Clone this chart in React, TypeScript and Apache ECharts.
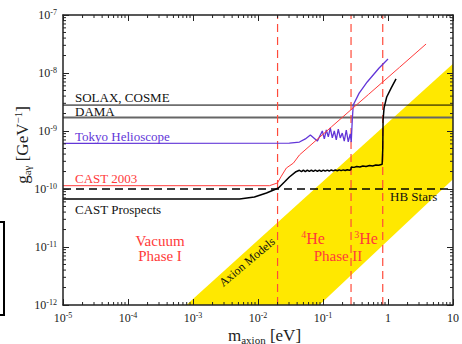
import React, { useEffect, useRef } from "react";
import * as echarts from "echarts";

const FONT = '"Liberation Serif", "Times New Roman", serif';

const X_RANGE: [number, number] = [1e-5, 10];
const Y_RANGE: [number, number] = [1e-12, 1e-7];

// horizontal limits
const SOLAX_COSME = 2.8e-9;
const DAMA = 1.71e-9;
const HB_STARS = 1.0e-10;
// vertical dashed limits (eV)
const VERTICAL_LIMITS = [0.02, 0.27, 0.83];

// yellow axion-model band vertices
const AXION_BAND: [number, number][] = [
  [7.9e-4, 1e-12],
  [10, 1.45e-8],
  [10, 1.47e-10],
  [0.088, 1e-12],
];

const TOKYO: [number, number][] = [
  [1e-5, 6.1e-10], [0.0304, 6.2e-10], [0.0434, 6.45e-10], [0.0535, 7.3e-10],
  [0.0639, 8.5e-10], [0.0818, 6.7e-10], [0.0976, 1.0e-9], [0.1048, 7.3e-10],
  [0.1125, 1.04e-9], [0.1207, 7.9e-10], [0.1295, 1.13e-9], [0.139, 7.6e-10],
  [0.1492, 1.0e-9], [0.16, 7.0e-10], [0.1718, 1.08e-9], [0.1844, 7.6e-10],
  [0.198, 9.2e-10], [0.2124, 6.7e-10], [0.228, 1.04e-9], [0.2446, 6.5e-10],
  [0.2625, 8.9e-10], [0.272, 6.45e-10], [0.282, 1.55e-9], [0.292, 2.8e-9],
  [0.36, 4.5e-9], [0.479, 7.0e-9], [0.73, 1.22e-8], [1.0, 1.74e-8],
];

const CAST_2003: [number, number][] = [
  [1e-5, 1.14e-10], [0.015, 1.14e-10], [0.0199, 1.27e-10], [0.0229, 1.67e-10],
  [0.0273, 2.3e-10], [0.0351, 2.8e-10], [0.0434, 3.86e-10], [0.134, 1.17e-9],
  [0.5, 4.26e-9], [1.5, 1.25e-8], [3.85, 3.16e-8],
];

const CAST_PROSPECTS: [number, number][] = [
  [1e-5, 6.73e-11], [0.0052, 6.73e-11], [0.0088, 7.28e-11], [0.0135, 8.53e-11],
  [0.0206, 1.04e-10], [0.0255, 1.32e-10], [0.0304, 1.61e-10], [0.0376, 1.96e-10],
  [0.0434, 2.1e-10], [0.0467, 2.0e-10], [0.0499, 2.12e-10], [0.0535, 2.0e-10],
  [0.0574, 2.12e-10], [0.0617, 2.01e-10], [0.0662, 2.12e-10], [0.071, 2.01e-10],
  [0.0762, 2.12e-10], [0.082, 2.02e-10], [0.0879, 2.12e-10], [0.094, 2.02e-10],
  [0.101, 2.12e-10], [0.108, 2.03e-10], [0.1164, 2.12e-10], [0.125, 2.04e-10],
  [0.134, 2.13e-10], [0.144, 2.05e-10], [0.1545, 2.13e-10], [0.166, 2.06e-10],
  [0.178, 2.14e-10], [0.19, 2.07e-10], [0.205, 2.14e-10], [0.22, 2.08e-10],
  [0.236, 2.15e-10], [0.2535, 2.1e-10], [0.268, 2.14e-10], [0.272, 2.39e-10],
  [0.3, 2.36e-10], [0.33, 2.45e-10], [0.37, 2.4e-10], [0.41, 2.5e-10],
  [0.46, 2.45e-10], [0.52, 2.55e-10], [0.58, 2.5e-10], [0.65, 2.6e-10],
  [0.72, 2.56e-10], [0.813, 2.68e-10], [0.83, 4.7e-10], [0.84, 1.55e-9],
  [0.87, 2.5e-9], [0.955, 3.86e-9], [1.117, 5.5e-9], [1.33, 7.9e-9],
];

// minor tick positions of the log axes (2..9 within each decade)
const MINOR_MULT = [2, 3, 4, 5, 6, 7, 8, 9];
const X_DECADES = [-5, -4, -3, -2, -1, 0];
const Y_DECADES = [-12, -11, -10, -9, -8];

const COLORS = {
  yellow: "#ffe800",
  purple: "#6236d8",
  red: "#ff3a3a",
  dashRed: "#ff4a3a",
  black: "#000000",
  axis: "#222222",
};

const supLabel = (v: number) => {
  const e = Math.round(Math.log10(v));
  if (e === 0) return "{b|1}";
  if (e === 1) return "{b|10}";
  return `{b|10}{s|${e}}`;
};

const tickRich = {
  b: { fontFamily: FONT, fontSize: 12, color: "#222", lineHeight: 14 },
  s: { fontFamily: FONT, fontSize: 8, color: "#222", verticalAlign: "top" },
};

function hLine(name: string, y: number, color: string, width: number, type: any = "solid", z = 3) {
  return {
    name,
    type: "line",
    data: [[X_RANGE[0], y], [X_RANGE[1], y]],
    symbol: "none",
    silent: true,
    z,
    lineStyle: { color, width, type },
  };
}

function vLine(x: number) {
  return {
    type: "line",
    data: [[x, Y_RANGE[0]], [x, Y_RANGE[1]]],
    symbol: "none",
    silent: true,
    z: 3,
    lineStyle: { color: COLORS.dashRed, width: 1.2, type: [8, 5] },
  };
}

function curve(name: string, data: [number, number][], color: string, width: number) {
  return {
    name,
    type: "line",
    data,
    symbol: "none",
    silent: true,
    z: 4,
    lineStyle: { color, width },
  };
}

function txt(text: string, x: number, y: number, fill: string, size: number, extra: any = {}) {
  return {
    type: "text",
    x,
    y,
    z: 100,
    silent: true,
    ...extra.el,
    style: {
      text,
      fill,
      fontFamily: FONT,
      fontSize: size,
      align: "left",
      verticalAlign: "middle",
      ...extra.style,
    },
  };
}

const heRich = {
  b: { fontFamily: FONT, fontSize: 16, color: COLORS.red, lineHeight: 18 },
  s: { fontFamily: FONT, fontSize: 10, color: COLORS.red, verticalAlign: "top" },
};

function buildOption() {
  const minorX = X_DECADES.flatMap((d) => MINOR_MULT.map((m) => [m * Math.pow(10, d), Y_RANGE[0]]));
  const minorY = Y_DECADES.flatMap((d) => MINOR_MULT.map((m) => [X_RANGE[0], m * Math.pow(10, d)]));

  const axisCommon = {
    type: "log",
    logBase: 10,
    z: 10,
    axisLine: { show: true, lineStyle: { color: COLORS.axis, width: 1.5 } },
    axisTick: { show: true, inside: true, length: 6, lineStyle: { color: COLORS.axis, width: 1 } },
    splitLine: { show: false },
  };

  return {
    animation: false,
    backgroundColor: "#ffffff",
    grid: { left: 63, right: 8, top: 15, bottom: 39, containLabel: false },
    xAxis: [
      {
        ...axisCommon,
        min: X_RANGE[0],
        max: X_RANGE[1],
        position: "bottom",
        axisLabel: { margin: 6, formatter: supLabel, rich: tickRich },
      },
      {
        ...axisCommon,
        min: X_RANGE[0],
        max: X_RANGE[1],
        position: "top",
        axisLabel: { show: false },
      },
    ],
    yAxis: [
      {
        ...axisCommon,
        min: Y_RANGE[0],
        max: Y_RANGE[1],
        position: "left",
        axisLabel: { margin: 6, formatter: supLabel, rich: tickRich },
      },
      {
        ...axisCommon,
        min: Y_RANGE[0],
        max: Y_RANGE[1],
        position: "right",
        axisLabel: { show: false },
      },
    ],
    series: [
      {
        type: "custom",
        name: "Axion Models",
        silent: true,
        z: 1,
        data: AXION_BAND,
        renderItem: (params: any, api: any) => {
          if (params.dataIndex !== 0) return null;
          const pts = AXION_BAND.map((p) => api.coord(p));
          return { type: "polygon", shape: { points: pts }, style: { fill: COLORS.yellow } };
        },
      },
      hLine("SOLAX, COSME", SOLAX_COSME, "#000", 1),
      hLine("DAMA", DAMA, "#666", 2),
      hLine("HB Stars", HB_STARS, "#000", 1.3, [8, 5]),
      ...VERTICAL_LIMITS.map(vLine),
      curve("Tokyo Helioscope", TOKYO, COLORS.purple, 1.3),
      curve("CAST 2003", CAST_2003, COLORS.red, 1),
      curve("CAST Prospects", CAST_PROSPECTS, COLORS.black, 1.5),
      {
        type: "custom",
        silent: true,
        z: 11,
        clip: false,
        data: minorX,
        renderItem: (params: any, api: any) => {
          const v = api.value(0);
          const b = api.coord([v, Y_RANGE[0]]);
          const t = api.coord([v, Y_RANGE[1]]);
          const st = { stroke: COLORS.axis, lineWidth: 1 };
          return {
            type: "group",
            children: [
              { type: "line", shape: { x1: b[0], y1: b[1], x2: b[0], y2: b[1] - 3 }, style: st },
              { type: "line", shape: { x1: t[0], y1: t[1], x2: t[0], y2: t[1] + 3 }, style: st },
            ],
          };
        },
      },
      {
        type: "custom",
        silent: true,
        z: 11,
        clip: false,
        data: minorY,
        renderItem: (params: any, api: any) => {
          const v = api.value(1);
          const l = api.coord([X_RANGE[0], v]);
          const r = api.coord([X_RANGE[1], v]);
          const st = { stroke: COLORS.axis, lineWidth: 1 };
          return {
            type: "group",
            children: [
              { type: "line", shape: { x1: l[0], y1: l[1], x2: l[0] + 3, y2: l[1] }, style: st },
              { type: "line", shape: { x1: r[0], y1: r[1], x2: r[0] - 3, y2: r[1] }, style: st },
            ],
          };
        },
      },
    ],
    graphic: [
      txt("SOLAX, COSME", 75, 97, "#111", 13),
      txt("DAMA", 75, 111, "#111", 13),
      txt("Tokyo Helioscope", 75, 136, COLORS.purple, 13),
      txt("CAST 2003", 75, 178, COLORS.red, 13),
      txt("CAST Prospects", 75, 209, "#111", 13),
      txt("HB Stars", 390, 196, "#111", 13),
      txt("Vacuum", 160, 241, COLORS.red, 15, { style: { align: "center", lineHeight: 15 } }),
      txt("Phase I", 160, 256, COLORS.red, 15, { style: { align: "center", lineHeight: 15 } }),
      txt("Phase II", 338, 256, COLORS.red, 15, { style: { align: "center", lineHeight: 15 } }),
      txt("{s|4}{b|He}", 313, 238, COLORS.red, 16, { style: { align: "center", rich: heRich } }),
      txt("{s|3}{b|He}", 366, 238, COLORS.red, 16, { style: { align: "center", rich: heRich } }),
      txt("Axion Models", 247, 262, "#111", 12, {
        el: { rotation: 0.7 },
        style: { align: "center" },
      }),
      txt("{b|m}{s|axion}{b| [eV]}", 228, 335, "#222", 17, {
        style: {
          rich: {
            b: { fontFamily: FONT, fontSize: 17, color: "#222", lineHeight: 20 },
            s: { fontFamily: FONT, fontSize: 11, color: "#222", verticalAlign: "bottom" },
          },
        },
      }),
      txt("{b|g}{s|aγ}{b| [GeV}{p|−1}{b|]}", 22, 145, "#222", 17, {
        el: { rotation: Math.PI / 2 },
        style: {
          align: "center",
          rich: {
            b: { fontFamily: FONT, fontSize: 17, color: "#222", lineHeight: 20 },
            s: { fontFamily: FONT, fontSize: 11, color: "#222", verticalAlign: "bottom" },
            p: { fontFamily: FONT, fontSize: 11, color: "#222", verticalAlign: "top" },
          },
        },
      }),
      {
        type: "polyline",
        z: 100,
        silent: true,
        shape: { points: [[0, 222], [4, 222], [4, 315], [0, 315]] },
        style: { stroke: "#000", lineWidth: 2, fill: "none" },
      },
    ],
  };
}

export default function App() {
  const ref = useRef<HTMLDivElement>(null);
  useEffect(() => {
    if (!ref.current) return;
    const chart = echarts.init(ref.current, null, { renderer: "svg" });
    chart.setOption(buildOption() as any);
    return () => chart.dispose();
  }, []);
  return (
    <div
      ref={ref}
      style={{ position: "fixed", left: 0, top: 0, width: 462, height: 344, background: "#fff" }}
    />
  );
}
